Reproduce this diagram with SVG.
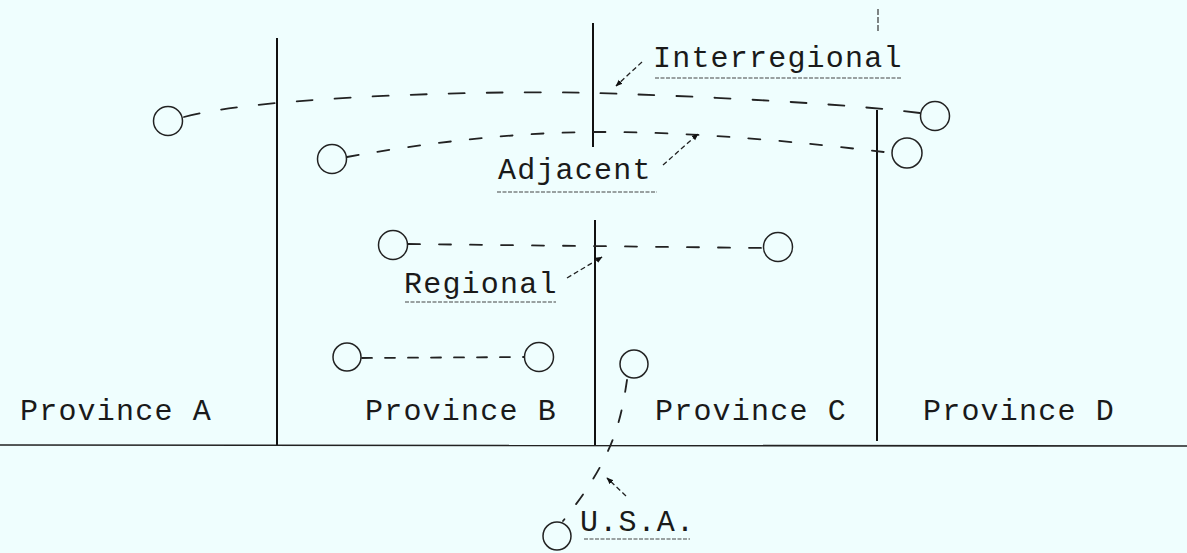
<svg xmlns="http://www.w3.org/2000/svg" width="1187" height="553" viewBox="0 0 1187 553">
<defs>
<style>
.bg{fill:#effefe}
.wall{stroke:#111;stroke-width:2;fill:none}
.base{stroke:#222;stroke-width:1.6;fill:none}
.node{fill:none;stroke:#222;stroke-width:1.5}
.lbl{font-family:"Liberation Mono","DejaVu Sans Mono",monospace;font-size:30px;letter-spacing:1.2px;fill:#1a1a1a}
.ul{stroke:#444;stroke-width:1.2;stroke-dasharray:4 1.5;fill:none}
.flow{fill:none;stroke:#222;stroke-width:1.8;stroke-linecap:round}
.big{stroke-dasharray:16 22}
.mid{stroke-dasharray:12 19}
.small{stroke-dasharray:10 13}
.ptr{fill:none;stroke:#222;stroke-width:1.3;stroke-dasharray:5 3;marker-end:url(#ah)}
</style>
<marker id="ah" viewBox="0 0 10 10" refX="9" refY="5" markerWidth="7" markerHeight="7" orient="auto" markerUnits="userSpaceOnUse">
<path d="M0,1 L10,5 L0,9 z" fill="#111"/>
</marker>
</defs>
<rect class="bg" x="0" y="0" width="1187" height="553"/>
<g id="boundaries">
<line class="wall" x1="277" y1="38" x2="277" y2="445"/>
<line class="wall" x1="593" y1="23" x2="593" y2="147"/>
<line class="wall" x1="595" y1="220" x2="595" y2="445"/>
<line class="wall" x1="877" y1="110" x2="877" y2="441"/>
<line class="base" x1="0" y1="445" x2="1187" y2="446"/>
<line x1="878" y1="9" x2="878" y2="33" stroke="#333" stroke-width="1.2" stroke-dasharray="6 2"/>
</g>
<g id="connectors">
<path class="flow big" d="M184,117 C260,96 500,90 593,93 C700,96 850,104 920,113"/>
<path class="flow mid" d="M347,157 C430,142 520,132 600,132 C700,132 800,142 892,153"/>
<path class="flow mid" d="M408,244 L764,248"/>
<path class="flow small" d="M362,358 L524,357"/>
<path class="flow mid" d="M627,380 C621,420 614,458 563,521"/>
<path class="ptr" d="M642,62 L616,86"/>
<path class="ptr" d="M663,165 L698,134"/>
<path class="ptr" d="M567,278 L602,257"/>
<path class="ptr" d="M626,496 L607,478"/>
</g>
<g id="province-a"><text class="lbl" x="20" y="420">Province A</text></g>
<g id="province-b"><text class="lbl" x="365" y="420">Province B</text></g>
<g id="province-c"><text class="lbl" x="655" y="420">Province C</text></g>
<g id="province-d"><text class="lbl" x="923" y="420">Province D</text></g>
<g id="label-interregional"><text class="lbl" x="653" y="67">Interregional</text><line class="ul" x1="655" y1="78" x2="902" y2="78"/></g>
<g id="label-adjacent"><text class="lbl" x="498" y="179">Adjacent</text><line class="ul" x1="497" y1="192" x2="657" y2="192"/></g>
<g id="label-regional"><text class="lbl" x="404" y="293">Regional</text><line class="ul" x1="405" y1="302" x2="556" y2="302"/></g>
<g id="label-usa"><text class="lbl" x="580" y="531">U.S.A.</text><line class="ul" x1="584" y1="539" x2="690" y2="539"/></g>
<g id="node-a1"><circle class="node" cx="168" cy="121" r="14.5"/></g>
<g id="node-b1"><circle class="node" cx="332" cy="159" r="14.5"/></g>
<g id="node-d1"><circle class="node" cx="935" cy="116" r="14.5"/></g>
<g id="node-d2"><circle class="node" cx="907" cy="153" r="15"/></g>
<g id="node-b2"><circle class="node" cx="393" cy="245" r="14.5"/></g>
<g id="node-c1"><circle class="node" cx="778" cy="247" r="14.5"/></g>
<g id="node-b3"><circle class="node" cx="347" cy="357" r="14"/></g>
<g id="node-b4"><circle class="node" cx="539" cy="357" r="14.5"/></g>
<g id="node-c2"><circle class="node" cx="634" cy="364" r="14"/></g>
<g id="node-usa"><circle class="node" cx="557" cy="536" r="14"/></g>
</svg>
